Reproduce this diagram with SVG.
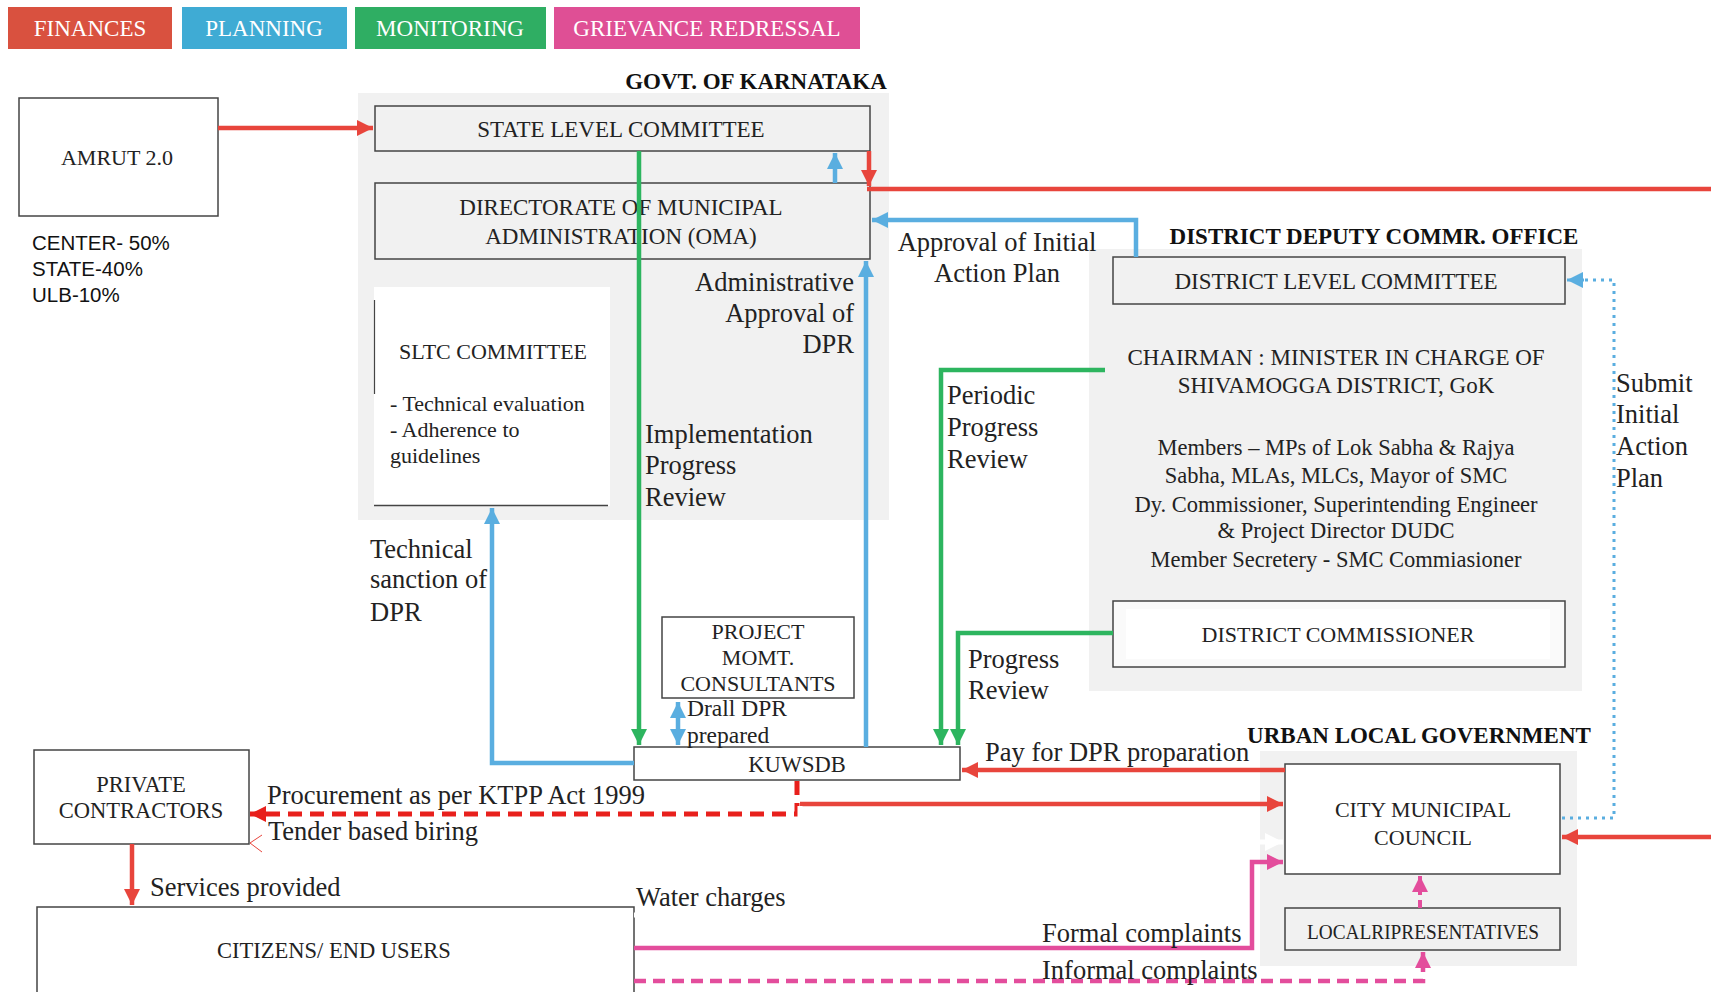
<svg xmlns="http://www.w3.org/2000/svg" width="1711" height="992" viewBox="0 0 1711 992">
<style>
.t{font-family:"Liberation Serif","Times New Roman",serif;fill:#222}
.box{fill:none;stroke:#444;stroke-width:1.5}
.wbox{fill:#fff;stroke:#444;stroke-width:1.5}
.lbl{font-family:"Liberation Serif","Times New Roman",serif;font-size:26.5px;fill:#222}
.sm{font-size:23.5px}
.hdr{font-family:"Liberation Serif","Times New Roman",serif;font-size:23px;font-weight:bold;fill:#111}
.leg{font-family:"Liberation Serif","Times New Roman",serif;font-size:23px;fill:#fff}
.red{fill:none;stroke:#e8453c;stroke-width:4.5}
.blue{fill:none;stroke:#5aaee0;stroke-width:4.5}
.green{fill:none;stroke:#2db55f;stroke-width:4.5}
.pink{fill:none;stroke:#e34d9c;stroke-width:4.5}
</style>
<defs>
<marker id="mr" viewBox="0 0 10 10" refX="10" refY="5" markerWidth="16" markerHeight="16" markerUnits="userSpaceOnUse" orient="auto"><path d="M0,0 L10,5 L0,10 z" fill="#e8453c"/></marker>
<marker id="mrd" viewBox="0 0 10 10" refX="10" refY="5" markerWidth="16" markerHeight="16" markerUnits="userSpaceOnUse" orient="auto"><path d="M0,0 L10,5 L0,10 z" fill="#e8201c"/></marker>
<marker id="mb" viewBox="0 0 10 10" refX="10" refY="5" markerWidth="16" markerHeight="16" markerUnits="userSpaceOnUse" orient="auto-start-reverse"><path d="M0,0 L10,5 L0,10 z" fill="#5aaee0"/></marker>
<marker id="mg" viewBox="0 0 10 10" refX="10" refY="5" markerWidth="16" markerHeight="16" markerUnits="userSpaceOnUse" orient="auto"><path d="M0,0 L10,5 L0,10 z" fill="#2db55f"/></marker>
<marker id="mp" viewBox="0 0 10 10" refX="10" refY="5" markerWidth="16" markerHeight="16" markerUnits="userSpaceOnUse" orient="auto"><path d="M0,0 L10,5 L0,10 z" fill="#e34d9c"/></marker>
<marker id="mw" viewBox="0 0 10 10" refX="10" refY="5" markerWidth="18" markerHeight="18" markerUnits="userSpaceOnUse" orient="auto"><path d="M0,0 L10,5 L0,10 z" fill="#fff"/></marker>
</defs>
<rect width="1711" height="992" fill="#fff"/>

<g id="legend">
<rect x="8" y="7" width="164" height="42" fill="#d9513f"/>
<text class="leg" x="90" y="36" text-anchor="middle">FINANCES</text>
<rect x="182" y="7" width="165" height="42" fill="#3fabd4"/>
<text class="leg" x="264" y="36" text-anchor="middle">PLANNING</text>
<rect x="355" y="7" width="191" height="42" fill="#2fae63"/>
<text class="leg" x="450" y="36" text-anchor="middle">MONITORING</text>
<rect x="554" y="7" width="306" height="42" fill="#df4f95"/>
<text class="leg" x="707" y="36" text-anchor="middle">GRIEVANCE REDRESSAL</text>
</g>

<g id="regions">
<rect x="358" y="93" width="531" height="427" fill="#f1f1f1"/>
<rect x="1089" y="249" width="493" height="442" fill="#f1f1f1"/>
<rect x="1260" y="751" width="317" height="215" fill="#f1f1f1"/>
<text class="hdr" x="756" y="89" text-anchor="middle">GOVT. OF KARNATAKA</text>
<text class="hdr" x="1374" y="244" text-anchor="middle">DISTRICT DEPUTY COMMR. OFFICE</text>
<text class="hdr" x="1419" y="743" text-anchor="middle">URBAN LOCAL GOVERNMENT</text>
</g>

<g id="amrut">
<rect class="wbox" x="19" y="98" width="199" height="118"/>
<text class="t" x="117" y="165" font-size="22" text-anchor="middle">AMRUT  2.0</text>
<text x="32" y="250" font-family="Liberation Sans, Arial, sans-serif" font-size="20.5" fill="#111">CENTER- 50%</text>
<text x="32" y="276" font-family="Liberation Sans, Arial, sans-serif" font-size="20.5" fill="#111">STATE-40%</text>
<text x="32" y="302" font-family="Liberation Sans, Arial, sans-serif" font-size="20.5" fill="#111">ULB-10%</text>
</g>

<g id="slc">
<rect class="box" x="375" y="106" width="495" height="45"/>
<text class="t" x="621" y="137" font-size="23" text-anchor="middle">STATE LEVEL COMMITTEE</text>
</g>

<g id="dma">
<rect class="box" x="375" y="183" width="495" height="76"/>
<text class="t" x="621" y="215" font-size="23" text-anchor="middle">DIRECTORATE OF MUNICIPAL</text>
<text class="t" x="621" y="244" font-size="23" text-anchor="middle">ADMINISTRATION (OMA)</text>
</g>

<g id="sltc">
<rect x="374" y="287" width="236" height="219" fill="#fff"/>
<line x1="374.5" y1="300" x2="374.5" y2="394" stroke="#444" stroke-width="1.2"/>
<line x1="374" y1="505.5" x2="608" y2="505.5" stroke="#444" stroke-width="1.5"/>
<text class="t" x="493" y="359" font-size="22" text-anchor="middle">SLTC COMMITTEE</text>
<text class="t" x="390" y="411" font-size="22">- Technical evaluation</text>
<text class="t" x="390" y="437" font-size="22">- Adherence to</text>
<text class="t" x="390" y="463" font-size="22">guidelines</text>
</g>

<g id="dlc">
<rect class="box" x="1113" y="257" width="452" height="47"/>
<text class="t" x="1336" y="289" font-size="23" text-anchor="middle">DISTRICT LEVEL COMMITTEE</text>
<text class="t" x="1336" y="365" font-size="23" text-anchor="middle">CHAIRMAN : MINISTER IN CHARGE OF</text>
<text class="t" x="1336" y="393" font-size="23" text-anchor="middle">SHIVAMOGGA DISTRICT, GoK</text>
<text class="t" x="1336" y="455" font-size="22.5" text-anchor="middle">Members – MPs of Lok Sabha &amp; Rajya</text>
<text class="t" x="1336" y="483" font-size="22.5" text-anchor="middle">Sabha, MLAs, MLCs, Mayor of SMC</text>
<text class="t" x="1336" y="512" font-size="22.5" text-anchor="middle">Dy. Commissioner, Superintending Engineer</text>
<text class="t" x="1336" y="538" font-size="22.5" text-anchor="middle">&amp;  Project Director DUDC</text>
<text class="t" x="1336" y="567" font-size="22.5" text-anchor="middle">Member Secretery - SMC Commiasioner</text>
</g>

<g id="dc">
<rect x="1113" y="601" width="452" height="66" fill="#fafafa" stroke="#444" stroke-width="1.5"/>
<rect x="1126" y="609" width="424" height="50" fill="#fff"/>
<text class="t" x="1338" y="642" font-size="22" text-anchor="middle">DISTRICT COMMISSIONER</text>
</g>

<g id="pmc">
<rect class="box" x="662" y="617" width="192" height="81"/>
<text class="t" x="758" y="639" font-size="22" text-anchor="middle">PROJECT</text>
<text class="t" x="758" y="665" font-size="22" text-anchor="middle">MOMT.</text>
<text class="t" x="758" y="691" font-size="22" text-anchor="middle">CONSULTANTS</text>
</g>

<g id="kuwsdb">
<rect class="wbox" x="634" y="747" width="326" height="33"/>
<text class="t" x="797" y="772" font-size="22.5" text-anchor="middle">KUWSDB</text>
</g>

<g id="pc">
<rect class="wbox" x="34" y="750" width="215" height="94"/>
<text class="t" x="141" y="792" font-size="22.5" text-anchor="middle">PRIVATE</text>
<text class="t" x="141" y="818" font-size="22.5" text-anchor="middle">CONTRACTORS</text>
</g>

<g id="citizens">
<rect class="wbox" x="37" y="907" width="597" height="90"/>
<text class="t" x="334" y="958" font-size="22.5" text-anchor="middle">CITIZENS/ END USERS</text>
</g>

<g id="cmc">
<rect x="1285" y="764" width="275" height="110" fill="#fff" stroke="#444" stroke-width="1.5"/>
<text class="t" x="1423" y="817" font-size="22" text-anchor="middle">CITY  MUNICIPAL</text>
<text class="t" x="1423" y="845" font-size="22" text-anchor="middle">COUNCIL</text>
</g>

<g id="lr">
<rect class="box" x="1285" y="908" width="275" height="42"/>
<text class="t" x="1423" y="939" font-size="21" text-anchor="middle" textLength="232" lengthAdjust="spacingAndGlyphs">LOCALRIPRESENTATIVES</text>
</g>

<g id="connectors">
<line class="red" x1="218" y1="128" x2="373" y2="128" marker-end="url(#mr)"/>
<line class="red" x1="869" y1="151" x2="869" y2="186" marker-end="url(#mr)"/>
<line class="red" x1="867" y1="189" x2="1711" y2="189"/>
<line class="red" x1="1711" y1="837" x2="1562" y2="837" marker-end="url(#mr)"/>
<line class="red" x1="1285" y1="770" x2="962" y2="770" marker-end="url(#mr)"/>
<line class="red" x1="800" y1="804" x2="1283" y2="804" marker-end="url(#mr)"/>
<polyline fill="none" stroke="#e8201c" stroke-width="5" stroke-dasharray="14 8" points="797,781 797,814 262,814"/>
<line stroke="#e8201c" stroke-width="5" x1="262" y1="814" x2="250" y2="814" marker-end="url(#mrd)"/>
<polyline fill="none" stroke="#e8453c" stroke-width="1" points="262,835 250,843 262,852"/>
<line class="red" x1="132" y1="844" x2="132" y2="905" marker-end="url(#mr)"/>
<polyline fill="none" stroke="#fff" stroke-width="5" points="800,806 800,915 634,915"/>
<line stroke="#fff" stroke-width="5" x1="800" y1="842" x2="1283" y2="842" marker-end="url(#mw)"/>
<line class="blue" x1="835" y1="183" x2="835" y2="153" marker-end="url(#mb)"/>
<polyline class="blue" points="1136,257 1136,220 872,220" marker-end="url(#mb)"/>
<line class="blue" x1="866" y1="747" x2="866" y2="261" marker-end="url(#mb)"/>
<polyline class="blue" points="634,763 492,763 492,508" marker-end="url(#mb)"/>
<line class="blue" x1="678" y1="702" x2="678" y2="745" marker-start="url(#mb)" marker-end="url(#mb)"/>
<polyline fill="none" stroke="#5aaee0" stroke-width="3" stroke-dasharray="3 5" points="1562,818 1614,818 1614,280 1584,280"/>
<line stroke="#5aaee0" stroke-width="3" x1="1584" y1="280" x2="1567" y2="280" marker-end="url(#mb)"/>
<line class="green" x1="639" y1="151" x2="639" y2="745" marker-end="url(#mg)"/>
<polyline class="green" points="1105,370 941,370 941,745" marker-end="url(#mg)"/>
<polyline class="green" points="1113,633 958,633 958,745" marker-end="url(#mg)"/>
<polyline class="pink" points="634,948 1252,948 1252,862 1283,862" marker-end="url(#mp)"/>
<polyline fill="none" stroke="#e34d9c" stroke-width="4.5" stroke-dasharray="12 7" points="634,981 1423,981 1423,966"/>
<line stroke="#e34d9c" stroke-width="4.5" x1="1423" y1="966" x2="1423" y2="952" marker-end="url(#mp)"/>
<line stroke="#e34d9c" stroke-width="4" stroke-dasharray="8 5" x1="1420" y1="908" x2="1420" y2="890"/>
<line stroke="#e34d9c" stroke-width="4" x1="1420" y1="890" x2="1420" y2="876" marker-end="url(#mp)"/>
</g>

<g id="labels">
<text class="lbl" x="997" y="251" text-anchor="middle">Approval of Initial</text>
<text class="lbl" x="997" y="282" text-anchor="middle">Action Plan</text>
<text class="lbl" x="854" y="291" text-anchor="end">Administrative</text>
<text class="lbl" x="854" y="322" text-anchor="end">Approval of</text>
<text class="lbl" x="854" y="353" text-anchor="end">DPR</text>
<text class="lbl" x="645" y="443">Implementation</text>
<text class="lbl" x="645" y="474">Progress</text>
<text class="lbl" x="645" y="506">Review</text>
<text class="lbl" x="947" y="404">Periodic</text>
<text class="lbl" x="947" y="436">Progress</text>
<text class="lbl" x="947" y="468">Review</text>
<text class="lbl" x="1616" y="392">Submit</text>
<text class="lbl" x="1616" y="423">Initial</text>
<text class="lbl" x="1616" y="455">Action</text>
<text class="lbl" x="1616" y="487">Plan</text>
<text class="lbl" x="370" y="558">Technical</text>
<text class="lbl" x="370" y="588">sanction of</text>
<text class="lbl" x="370" y="621">DPR</text>
<text class="lbl" x="968" y="668">Progress</text>
<text class="lbl" x="968" y="699">Review</text>
<text class="lbl sm" x="687" y="716">Drall DPR</text>
<text class="lbl sm" x="687" y="743">prepared</text>
<text class="lbl" x="985" y="761">Pay for DPR proparation</text>
<text class="lbl" x="267" y="804">Procurement as per KTPP Act 1999</text>
<text class="lbl" x="268" y="840">Tender based biring</text>
<text class="lbl" x="150" y="896">Services provided</text>
<text class="lbl" x="636" y="906">Water charges</text>
<text class="lbl" x="1042" y="942">Formal complaints</text>
<text class="lbl" x="1042" y="979">Informal complaints</text>
</g>
</svg>
